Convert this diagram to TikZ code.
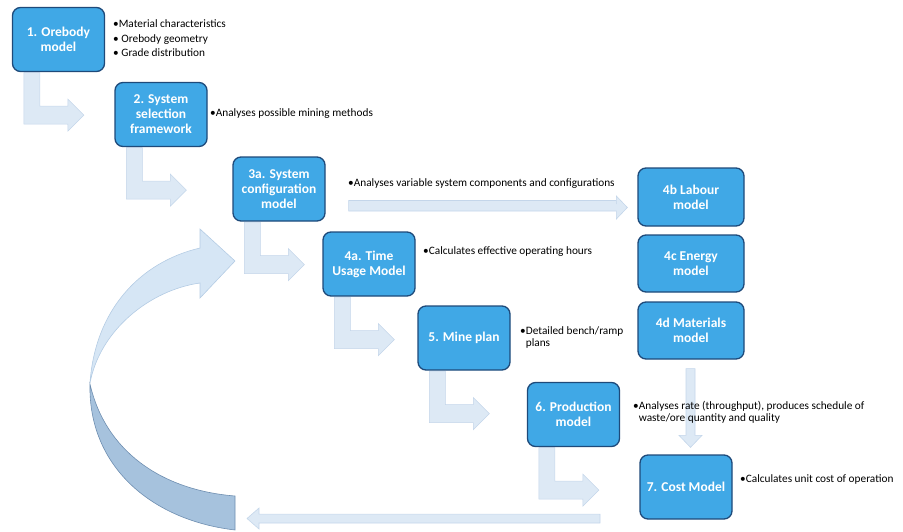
\documentclass[tikz,border=0pt]{standalone}
\usepackage{fontspec}
\setmainfont{Carlito}
\usetikzlibrary{calc}
\definecolor{boxfill}{RGB}{64,168,230}
\definecolor{boxline}{RGB}{30,74,122}
\definecolor{arrfill}{RGB}{221,233,245}
\definecolor{arrline}{RGB}{196,214,234}
\definecolor{curvlight}{RGB}{214,230,245}
\definecolor{curvlightline}{RGB}{180,204,228}
\definecolor{curvdark}{RGB}{166,194,221}
\definecolor{curvdarkline}{RGB}{110,142,176}
\pgfdeclarelayer{bg}
\pgfsetlayers{bg,main}
\newcommand\Larrow[1]{\path[blk] ($(#1.south west)+(12,0.5)$) -- ++(16,0) -- ++(0,33.5) -- ++(28,0) -- ++(0,-7) -- ++(16,16) -- ++(-16,16) -- ++(0,-7) -- ++(-44,0) -- cycle;}
\begin{document}
\begin{tikzpicture}[x=1pt,y=-1pt,
  box/.style={draw=boxline, line width=1.3pt, fill=boxfill, rounded corners=8pt,
    minimum width=92pt, minimum height=64pt, text=white, align=center,
    font=\fontsize{13.5}{15}\selectfont\bfseries, inner sep=2pt},
  widebox/.style={box, minimum width=106pt, minimum height=57pt},
  note/.style={anchor=west, align=left, font=\fontsize{11.3}{12}\selectfont, inner sep=0pt},
  blk/.style={fill=arrfill, draw=arrline, line width=0.6pt}]
\useasboundingbox (0,0) rectangle (903,531);

% boxes
\node[box] (b1) at (58.5,39.5) {1. Orebody\\model};
\node[box] (b2) at (161,114.5) {2. System\\selection\\framework};
\node[box] (b3a) at (279,189) {3a. System\\configuration\\model};
\node[box] (b4a) at (369,264) {4a. Time\\Usage Model};
\node[box] (b5) at (464,338) {5. Mine plan};
\node[box] (b6) at (573.5,414.5) {6. Production\\model};
\node[widebox, minimum height=58pt] (b4b) at (691,197) {4b Labour\\model};
\node[widebox] (b4c) at (691,263.5) {4c Energy\\model};
\node[widebox] (b4d) at (691,330.5) {4d Materials\\model};
\node[box] (b7) at (686,487) {7. Cost Model};

% notes
\node[note, font=\fontsize{11.3}{14.5}\selectfont] (n1) at (113,38.5) {•Material characteristics\\• Orebody geometry\\• Grade distribution};
\node[note] (n2) at (210,114) {•Analyses possible mining methods};
\node[note] (n3) at (348,184) {•Analyses variable system components and configurations};
\node[note] (n4) at (423,252) {•Calculates effective operating hours};
\node[note] (n5) at (520,337.5) {•Detailed bench/ramp\\\hphantom{•}plans};
\node[note] (n6) at (633,412.5) {•Analyses rate (throughput), produces schedule of\\\hphantom{•}waste/ore quantity and quality};
\node[note] (n7) at (740,479) {•Calculates unit cost of operation};

\begin{pgfonlayer}{bg}
% L-shaped block arrows
\Larrow{b1}
\Larrow{b2}
\Larrow{b3a}
\Larrow{b4a}
\Larrow{b5}
\Larrow{b6}
% 3a -> 4b
\coordinate (r0) at ($(b3a.east)+(23,15)$);
\coordinate (r1) at ($(b4b.west)+(-10,10.5)$);
\path[blk] (r0) -- ++(0,-3.5) -| ($(r1)+(-11,-3.5)$) -- ++(0,-8) -- (r1) -- ($(r1)+(-11,11.5)$) -- ++(0,-8) -| (r0) -- cycle;
% 4d -> 7
\coordinate (d0) at ($(b4d.south)+(-0.5,9)$);
\coordinate (d1) at ($(b7.north)+(4.5,-7)$);
\path[blk] (d0) -- ++(-4.5,0) |- ($(d1)+(-4.5,-12)$) -- ++(-7,0) -- (d1) -- ($(d1)+(11.5,-12)$) -- ++(-7,0) |- (d0) -- cycle;
% 7 -> loop (bottom)
\coordinate (l0) at ($(b6.south)+(26.5,71.5)$);
\coordinate (l1) at (247,518.5);
\path[blk] (l0) -- ++(0,-4.5) -| ($(l1)+(12,-4.5)$) -- ++(0,-6) -- (l1) -- ($(l1)+(12,10.5)$) -- ++(0,-6) -| (l0) -- cycle;
% curved return arrow
\path[fill=curvlight, draw=curvlightline, line width=0.6pt]
  (200,248) .. controls (140,262) and (95,310) .. (90,383)
  .. controls (100,330) and (150,290) .. (200,283)
  -- (200,298) -- (235,261) -- (200,229) -- cycle;
\path[fill=curvdark, draw=curvdarkline, line width=0.6pt]
  (90,384) .. controls (88,465) and (150,520) .. (235,530)
  -- (235,496) .. controls (160,490) and (105,450) .. (90,384) -- cycle;
\end{pgfonlayer}
\end{tikzpicture}
\end{document}
